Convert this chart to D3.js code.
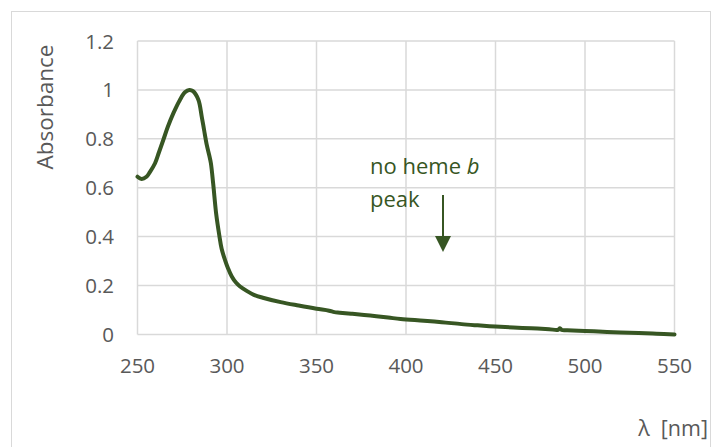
<!DOCTYPE html>
<html><head><meta charset="utf-8">
<script src="https://cdnjs.cloudflare.com/ajax/libs/d3/7.8.5/d3.min.js"></script>
<style>body{margin:0;background:#fff}svg{display:block}text{font-family:"Open Sans",sans-serif}</style>
</head><body><svg id="c" width="712" height="447"></svg>
<script>
const wavelength = [250,252.3,255,257,259.8,262,264.4,267,270,273.7,276.5,279,281,284,285.9,287.2,288.7,290,291,292.3,294,295.7,297,298.9,300.5,302.6,305,307.3,311,315,320,330,340,350,357,360,363,370,380,390,397,410,420,431,440,450,460,470,480,485,486,487,490,500,510,520,530,540,550];
const absorbance = [0.645,0.636,0.645,0.665,0.70,0.745,0.795,0.85,0.904,0.959,0.99,1.0,0.995,0.96,0.89,0.836,0.775,0.735,0.70,0.615,0.49,0.405,0.35,0.304,0.272,0.238,0.212,0.196,0.178,0.162,0.15,0.132,0.118,0.105,0.097,0.091,0.089,0.084,0.077,0.069,0.063,0.056,0.05,0.042,0.037,0.032,0.028,0.025,0.021,0.019,0.025,0.018,0.017,0.014,0.011,0.008,0.006,0.003,0.0];
const xTicks = [250,300,350,400,450,500,550];
const yTicks = [0,0.2,0.4,0.6,0.8,1,1.2];

const svg = d3.select("#c");
svg.append("rect").attr("x",11.5).attr("y",11.5).attr("width",699).attr("height",450)
  .attr("fill","#fff").attr("stroke","#d9d9d9");

const x = d3.scaleLinear().domain([250,550]).range([137.5,674.5]);
const y = d3.scaleLinear().domain([0,1.2]).range([334.4,41]);

const g = svg.append("g");
g.selectAll(".vg").data(xTicks).enter().append("line")
  .attr("x1",d=>x(d)).attr("x2",d=>x(d)).attr("y1",y(1.2)).attr("y2",y(0))
  .attr("stroke","#d9d9d9").attr("stroke-width",1.5);
g.selectAll(".hg").data(yTicks).enter().append("line")
  .attr("x1",x(250)).attr("x2",x(550)).attr("y1",d=>y(d)).attr("y2",d=>y(d))
  .attr("stroke","#d9d9d9").attr("stroke-width",1.5);

g.selectAll(".xt").data(xTicks).enter().append("text")
  .attr("x",d=>x(d)).attr("y",373).attr("text-anchor","middle")
  .attr("font-size",20.5).attr("fill","#595959").text(d=>d);
g.selectAll(".yt").data(yTicks).enter().append("text")
  .attr("x",114).attr("y",d=>y(d)+7.5).attr("text-anchor","end")
  .attr("font-size",20.5).attr("fill","#595959").text(d=>d);

svg.append("text").attr("transform","translate(53,107) rotate(-90)")
  .attr("text-anchor","middle").attr("font-size",22.5).attr("fill","#595959").text("Absorbance");
svg.append("text").attr("x",708).attr("y",436).attr("text-anchor","end")
  .attr("font-size",21.5).attr("fill","#595959").attr("xml:space","preserve").text("λ  [nm]");

const line = d3.line().x((d,i)=>x(wavelength[i])).y(d=>y(d)).curve(d3.curveCatmullRom.alpha(0.5));
svg.append("path").datum(absorbance).attr("d",line).attr("fill","none")
  .attr("stroke","#375623").attr("stroke-width",4).attr("stroke-linejoin","round").attr("stroke-linecap","round");

const green = "#375623";
const t1 = svg.append("text").attr("x",370).attr("y",174).attr("font-size",22).attr("fill",green);
t1.append("tspan").text("no heme ");
t1.append("tspan").attr("font-style","italic").text("b");
svg.append("text").attr("x",370).attr("y",207).attr("font-size",22).attr("fill",green).text("peak");
svg.append("line").attr("x1",443).attr("x2",443).attr("y1",195).attr("y2",238)
  .attr("stroke",green).attr("stroke-width",2);
svg.append("path").attr("d",`M435,236 L451,236 L443,252 Z`).attr("fill",green);
</script></body></html>
